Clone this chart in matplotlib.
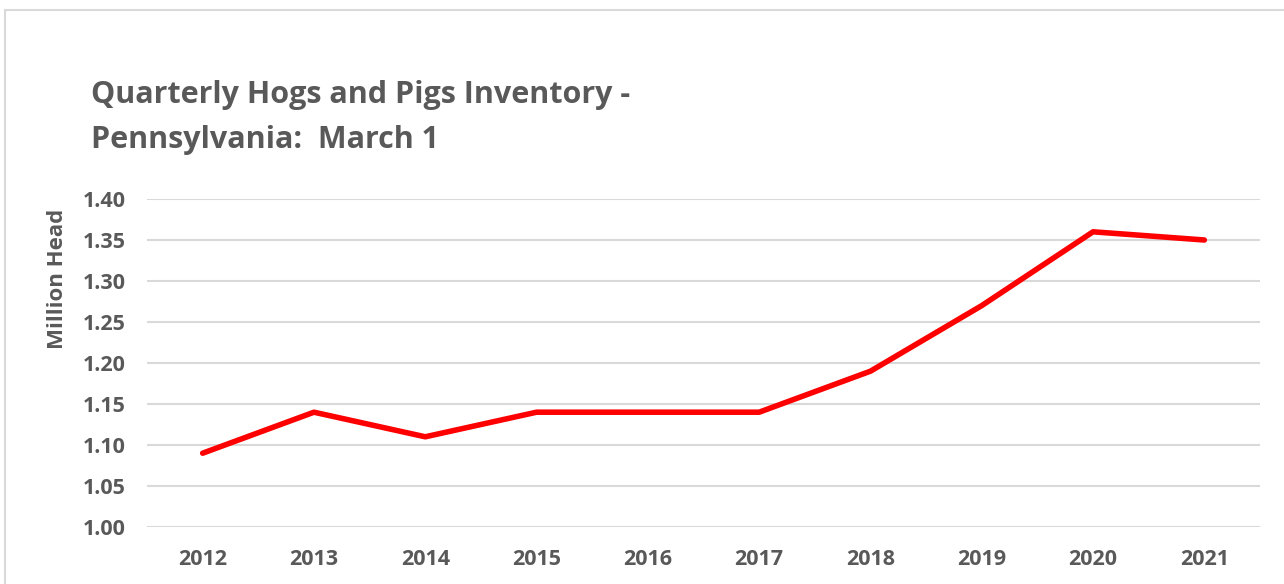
import matplotlib
matplotlib.use("Agg")
import matplotlib.pyplot as plt
from matplotlib.patches import Rectangle

years = ["2012", "2013", "2014", "2015", "2016", "2017", "2018", "2019", "2020", "2021"]
head = [1.09, 1.14, 1.11, 1.14, 1.14, 1.14, 1.19, 1.27, 1.36, 1.35]
yticks = [1.00, 1.05, 1.10, 1.15, 1.20, 1.25, 1.30, 1.35, 1.40]

plt.rcParams['font.family'] = ['Open Sans', 'DejaVu Sans']
gray = '#595959'

fig = plt.figure(figsize=(12.84, 5.84), dpi=100)
fig.patches.append(Rectangle((5/1284, -0.1), 1.2, 0.9829 + 0.1, transform=fig.transFigure,
                             facecolor='white', edgecolor='#D9D9D9', linewidth=1.5, zorder=-5))

ax = fig.add_axes([147/1284, 1 - 527/584, (1260 - 147)/1284, (527 - 199)/584])
ax.set_facecolor('none')
x = range(len(years))
ax.plot(x, head, color='#FF0000', linewidth=4, solid_capstyle='round', solid_joinstyle='round', zorder=3)

ax.set_xlim(-0.5, len(years) - 0.5)
ax.set_ylim(1.0, 1.40)
ax.set_xticks(list(x))
ax.set_xticklabels(years)
ax.set_yticks(yticks)
ax.set_yticklabels([f"{v:.2f}" for v in yticks])
ax.grid(axis='y', color='#D9D9D9', linewidth=1.5)
ax.set_axisbelow(True)
for s in ax.spines.values():
    s.set_visible(False)
ax.tick_params(length=0, labelsize=15.5, labelcolor=gray)
ax.tick_params(axis='x', pad=16)
ax.tick_params(axis='y', pad=15.5)
for lab in ax.get_xticklabels() + ax.get_yticklabels():
    lab.set_fontweight('bold')

ax.set_ylabel("Million Head", fontsize=16, fontweight='bold', color=gray)
ax.yaxis.set_label_coords(-0.080, 0.756)
ax.yaxis.label.set_va('center')

fig.text(91/1284, 1 - 103/584, "Quarterly Hogs and Pigs Inventory -", fontsize=22,
         fontweight='bold', color=gray, va='baseline')
fig.text(91/1284, 1 - 148/584, "Pennsylvania:  March 1", fontsize=22,
         fontweight='bold', color=gray, va='baseline')

fig.savefig("out.png", dpi=100)
